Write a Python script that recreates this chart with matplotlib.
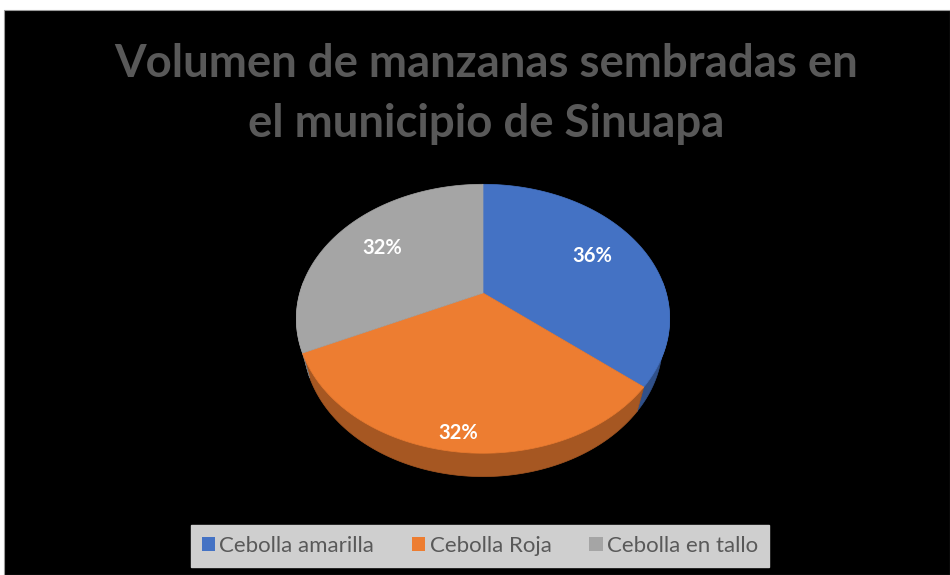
import numpy as np
import matplotlib
matplotlib.use('Agg')
import matplotlib.pyplot as plt
from matplotlib.patches import Patch, Rectangle, Polygon
from matplotlib.colors import to_rgb

# Data
categories = ['Cebolla amarilla', 'Cebolla Roja', 'Cebolla en tallo']
values = [36, 32, 32]
colors = ['#4472C4', '#ED7D31', '#A5A5A5']
label_r = [0.7, 0.9, 0.7]
title = 'Volumen de manzanas sembradas en\nel municipio de Sinuapa'

# 3D view settings (pixel layout of the figure)
cx, cy = 483, 293
f, D = 676, 3.69
phi = np.radians(45)
h = 0.2


def proj(X, Y, z=0.0):
    v = Y * np.sin(phi) + z * np.cos(phi)
    d = D + Y * np.cos(phi) - z * np.sin(phi)
    return cx + f * X / d, cy - f * v / d


def shade(c, k):
    r, g, b = to_rgb(c)
    return (r * k, g * k, b * k)


fig = plt.figure(figsize=(9.5, 5.75), dpi=100, facecolor='white')
ax = fig.add_axes([0, 0, 1, 1])
ax.set_xlim(0, 950)
ax.set_ylim(575, 0)
ax.axis('off')

# black chart area
ax.add_patch(Rectangle((4, 10), 946, 565, facecolor='black', edgecolor='#9a9a9a', lw=0.8))

# slice angles, clockwise from 12 o'clock
total = sum(values)
bounds = np.concatenate([[0], np.cumsum(values) / total * 360])

# outer walls (front part only)
for i, c in enumerate(colors):
    lo, hi = max(bounds[i], 85), min(bounds[i + 1], 275)
    if lo >= hi:
        continue
    a = np.radians(np.linspace(lo, hi, 120))
    xt, yt = proj(np.sin(a), np.cos(a), 0)
    xb, yb = proj(np.sin(a), np.cos(a), -h)
    pts = list(zip(xt, yt)) + list(zip(xb[::-1], yb[::-1]))
    col = shade(c, 0.7)
    ax.add_patch(Polygon(pts, closed=True, facecolor=col, edgecolor=col, lw=0.5))

# top faces
for i, c in enumerate(colors):
    a = np.radians(np.linspace(bounds[i], bounds[i + 1], 120))
    xs, ys = proj(np.sin(a), np.cos(a))
    pts = [(cx, cy)] + list(zip(xs, ys))
    ax.add_patch(Polygon(pts, closed=True, facecolor=c, edgecolor=c, lw=0.5))

# percentage labels
for i in range(len(values)):
    mid = np.radians((bounds[i] + bounds[i + 1]) / 2)
    lx, ly = proj(label_r[i] * np.sin(mid), label_r[i] * np.cos(mid))
    ax.text(lx, ly, f'{values[i] / total * 100:.0f}%', ha='center', va='center',
            color='white', fontsize=14.5, fontweight='bold', family=['Lato', 'DejaVu Sans'])

ax.text(486, 94, title, ha='center', va='center', color='#595959', fontsize=32.8,
        fontweight='bold', family=['Lato', 'DejaVu Sans'], linespacing=1.52)

handles = [Patch(facecolor=c, edgecolor='none') for c in colors]
leg = fig.legend(handles, categories, loc='center', bbox_to_anchor=(480 / 950, 1 - 546 / 575),
                 ncol=3, frameon=True, fancybox=False, facecolor='#cfcfcf', edgecolor='#cfcfcf',
                 framealpha=1, handlelength=0.6, handleheight=0.6, handletextpad=0.2,
                 columnspacing=1.7, borderpad=0.5, prop={'family': 'Lato', 'size': 16})
for t in leg.get_texts():
    t.set_color('#595959')

fig.savefig('out.png', dpi=100, facecolor='white')
